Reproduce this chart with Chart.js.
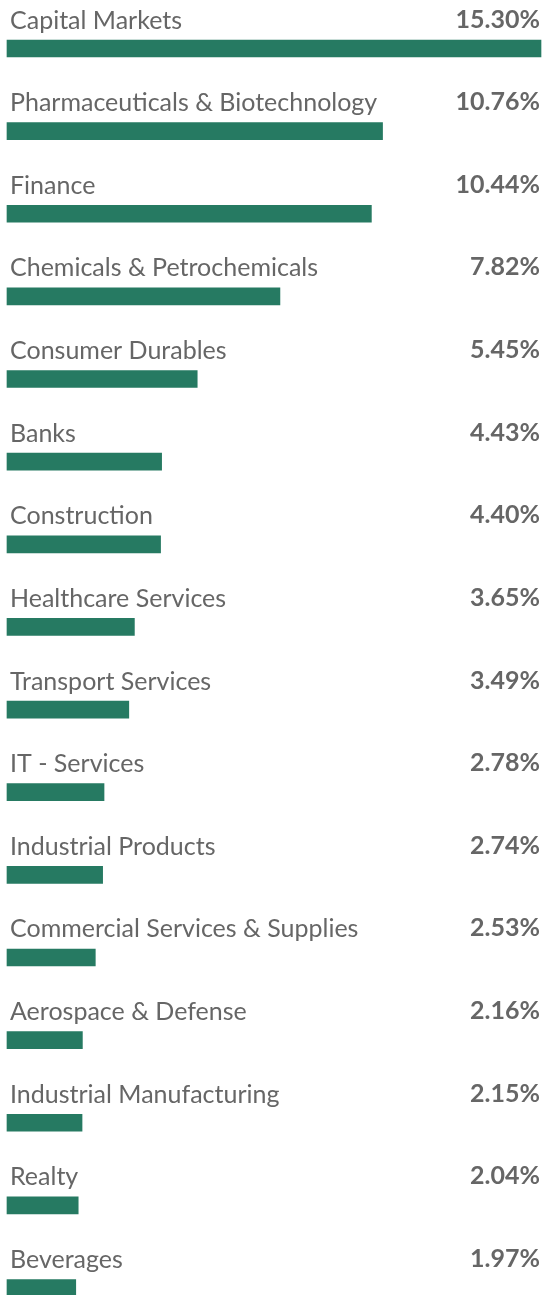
<!DOCTYPE html>
<html>
<head>
<meta charset="utf-8">
<script src="https://cdn.jsdelivr.net/npm/chart.js@4.4.1/dist/chart.umd.min.js"></script>
<style>
  html, body { margin: 0; padding: 0; background: #fff; }
  #wrap { width: 542px; height: 1295px; position: relative; }
</style>
</head>
<body>
<div id="wrap"><canvas id="myChart"></canvas></div>
<script>
var sectores = [
    'Capital Markets',
    'Pharmaceuticals & Biotechnology',
    'Finance',
    'Chemicals & Petrochemicals',
    'Consumer Durables',
    'Banks',
    'Construction',
    'Healthcare Services',
    'Transport Services',
    'IT - Services',
    'Industrial Products',
    'Commercial Services & Supplies',
    'Aerospace & Defense',
    'Industrial Manufacturing',
    'Realty',
    'Beverages'
];
var pesos = [15.30, 10.76, 10.44, 7.82, 5.45, 4.43, 4.40, 3.65, 3.49, 2.78, 2.74, 2.53, 2.16, 2.15, 2.04, 1.97];

var verde = '#267a62';
var gris = '#666666';

// nombre encima de cada barra y porcentaje alineado a la derecha
const etiquetas = {
    id: 'etiquetas',
    afterDatasetsDraw(chart) {
        const ctx = chart.ctx;
        const meta = chart.getDatasetMeta(0);
        ctx.save();
        ctx.fillStyle = gris;
        ctx.textBaseline = 'alphabetic';
        meta.data.forEach(function(bar, i) {
            ctx.font = '25px Lato';
            ctx.textAlign = 'left';
            ctx.fillText(sectores[i], 10, bar.y - 20);
            ctx.font = 'bold 25px Lato';
            ctx.textAlign = 'right';
            ctx.fillText(pesos[i].toFixed(2) + '%', 540, bar.y - 21);
        });
        ctx.restore();
    }
};

const ctx = document.getElementById('myChart');

new Chart(ctx, {
    type: 'bar',
    data: {
        labels: sectores,
        datasets: [{
            data: pesos,
            backgroundColor: verde,
            barThickness: 17,
            borderWidth: 0,
            clip: false
        }]
    },
    options: {
        indexAxis: 'y',
        responsive: true,
        maintainAspectRatio: false,
        animation: false,
        layout: {
            padding: { left: 7, right: 1, top: 48.5, bottom: 7 }
        },
        plugins: {
            legend: { display: false },
            tooltip: { enabled: false }
        },
        scales: {
            x: { display: false, min: 0, max: 15.30 },
            y: { display: false, offset: false }
        }
    },
    plugins: [etiquetas]
});
</script>
</body>
</html>
